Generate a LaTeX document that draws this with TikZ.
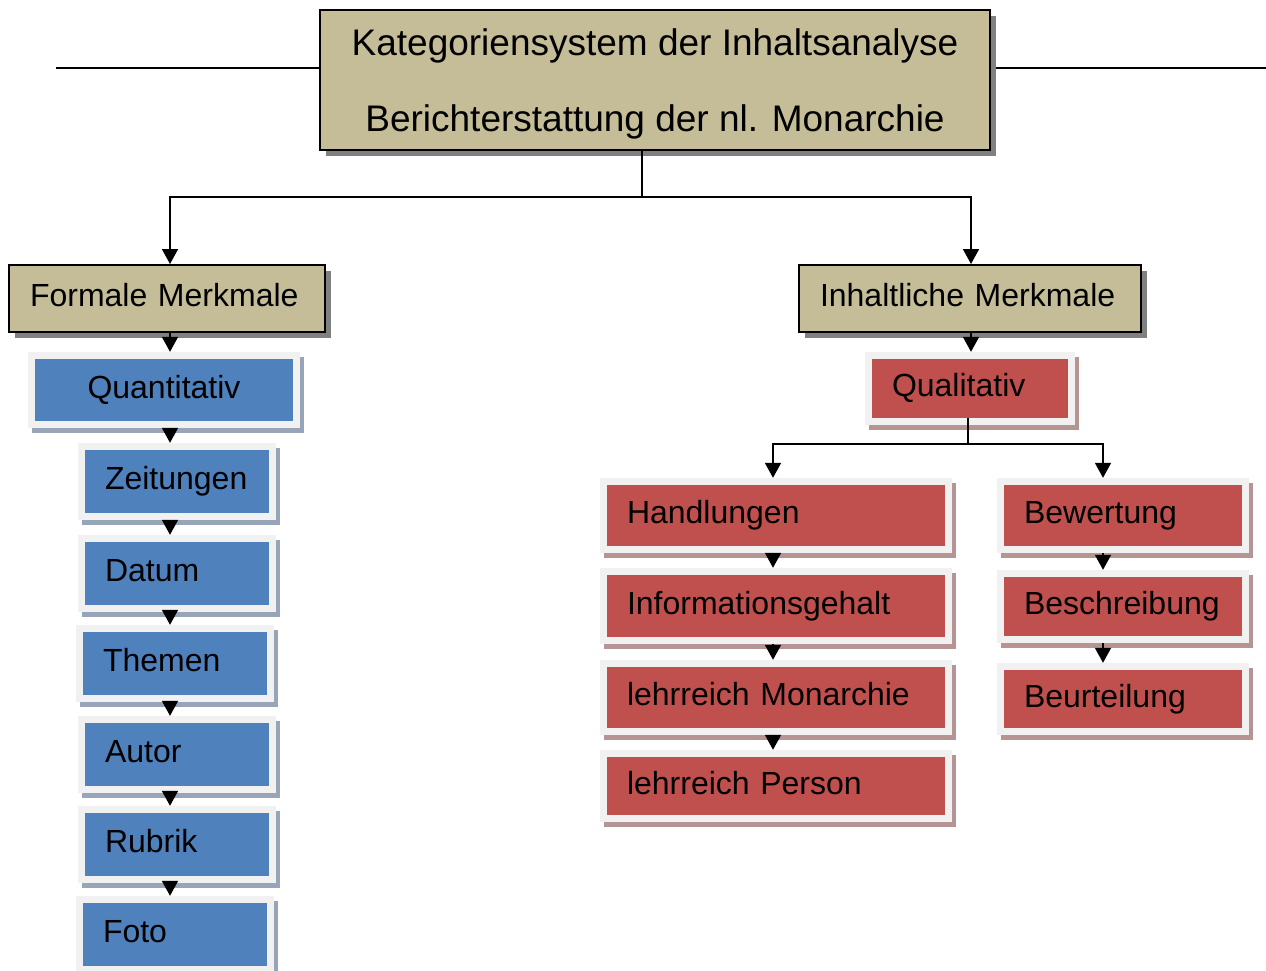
\documentclass[tikz,border=0pt]{standalone}
\usepackage{fontspec}
\setmainfont{Liberation Sans}
\usetikzlibrary{arrows.meta,shadows}
\definecolor{khaki}{HTML}{C4BD97}
\definecolor{khakishadow}{HTML}{808080}
\definecolor{bluefill}{HTML}{4F81BD}
\definecolor{blueshadow}{HTML}{98A5B8}
\definecolor{redfill}{HTML}{C0504D}
\definecolor{redshadow}{HTML}{B79494}
\definecolor{framecol}{HTML}{F1F1F1}
\begin{document}
\begin{tikzpicture}[x=1pt,y=-1pt,
  conn/.style={line width=1.8pt},
  arr/.style={line width=1.8pt,-{Triangle[width=16pt,length=15pt]}},
  head/.style={draw=black,line width=2pt,fill=khaki,inner sep=0pt,
    text height=23pt,text depth=7pt,font=\fontsize{32}{38}\selectfont,
    drop shadow={shadow xshift=6pt,shadow yshift=-6pt,fill=khakishadow,opacity=1}},
  cell/.style={inner xsep=27pt,inner ysep=0pt,align=left,
    text height=23pt,text depth=7pt,font=\fontsize{32}{38}\selectfont,
    fill=framecol,
    path picture={\fill[#1] ([xshift=7pt,yshift=7pt]path picture bounding box.south west)
      rectangle ([xshift=-7pt,yshift=-7pt]path picture bounding box.north east);}},
  bluecell/.style={cell=bluefill,
    drop shadow={shadow xshift=4pt,shadow yshift=-5pt,fill=blueshadow,opacity=1}},
  redcell/.style={cell=redfill,
    drop shadow={shadow xshift=4pt,shadow yshift=-5pt,fill=redshadow,opacity=1}}
]
\useasboundingbox (0,0) rectangle (1266,970);

% background line behind the title
\coordinate (hl) at (56,68);
\coordinate (hr) at (1266,68);
\draw[line width=1.5pt] (hl) -- (hr);

% title
\node[head,minimum width=670pt,minimum height=140pt,align=center,
      text height=,text depth=0pt,font=\fontsize{37}{76}\selectfont] (title) at (655,80)
  {Kategoriensystem der Inhaltsanalyse\\Berichterstattung der nl. Monarchie};

% level 1
\node[head,minimum width=316pt,minimum height=67pt,inner xsep=21pt,text width=274pt,align=left] (formal) at (167,298.5) {Formale Merkmale};
\node[head,minimum width=342pt,minimum height=67pt,inner xsep=21pt,text width=300pt,align=left] (inhalt) at (970,298.5) {Inhaltliche Merkmale};

% left column
\node[bluecell,align=center,text width=218pt,minimum height=76pt] (quant) at (164,390) {Quantitativ};
\node[bluecell,text width=144pt,minimum height=77pt] (zeit) at (177,481.5) {Zeitungen};
\node[bluecell,text width=144pt,minimum height=77pt] (datum) at (177,573.5) {Datum};
\node[bluecell,text width=144pt,minimum height=77pt] (themen) at (175,663.5) {Themen};
\node[bluecell,text width=144pt,minimum height=77pt] (autor) at (177,754.5) {Autor};
\node[bluecell,text width=144pt,minimum height=77pt] (rubrik) at (177,844.5) {Rubrik};
\node[bluecell,text width=144pt,minimum height=77pt] (foto) at (175,934.5) {Foto};

% right side
\node[redcell,text width=156pt,minimum height=73pt] (qual) at (970,388.5) {Qualitativ};
\node[redcell,text width=298pt,minimum height=75pt] (handl) at (776,515.5) {Handlungen};
\node[redcell,text width=298pt,minimum height=76pt] (info) at (776,606) {Informationsgehalt};
\node[redcell,text width=298pt,minimum height=75pt] (lmon) at (776,697.5) {lehrreich Monarchie};
\node[redcell,text width=298pt,minimum height=72pt] (lpers) at (776,786) {lehrreich Person};
\node[redcell,text width=198pt,minimum height=75pt] (bewert) at (1123,515.5) {Bewertung};
\node[redcell,text width=198pt,minimum height=73pt] (beschr) at (1123,606.5) {Beschreibung};
\node[redcell,text width=198pt,minimum height=72pt] (beurt) at (1123,699) {Beurteilung};

% connectors from the title
\coordinate (j1) at (642,197);
\draw[conn] (title.south -| j1) -- (j1);
\coordinate (xf) at (170,0);
\coordinate (xi) at (971,0);
\draw[arr] (j1) -| (formal.north -| xf);
\draw[arr] (j1) -| (inhalt.north -| xi);

% left column arrows
\draw[arr] (formal.south -| xf) -- (quant.north -| xf);
\draw[arr] (quant.south -| xf) -- (zeit.north -| xf);
\draw[arr] (zeit.south -| xf) -- (datum.north -| xf);
\draw[arr] (datum.south -| xf) -- (themen.north -| xf);
\draw[arr] (themen.south -| xf) -- (autor.north -| xf);
\draw[arr] (autor.south -| xf) -- (rubrik.north -| xf);
\draw[arr] (rubrik.south -| xf) -- (foto.north -| xf);

% right side arrows
\draw[arr] (inhalt.south -| xi) -- (qual.north -| xi);
\coordinate (j2) at (968,444);
\draw[conn] ([yshift=7pt]qual.south -| j2) -- (j2);
\coordinate (xh) at (773,0);
\coordinate (xb) at (1103,0);
\draw[arr] (j2) -| (handl.north -| xh);
\draw[arr] (j2) -| (bewert.north -| xb);
\draw[arr] (handl.south -| xh) -- (info.north -| xh);
\draw[arr] (info.south -| xh) -- (lmon.north -| xh);
\draw[arr] (lmon.south -| xh) -- (lpers.north -| xh);
\draw[arr] (bewert.south -| xb) -- (beschr.north -| xb);
\draw[arr] (beschr.south -| xb) -- (beurt.north -| xb);
\end{tikzpicture}
\end{document}
